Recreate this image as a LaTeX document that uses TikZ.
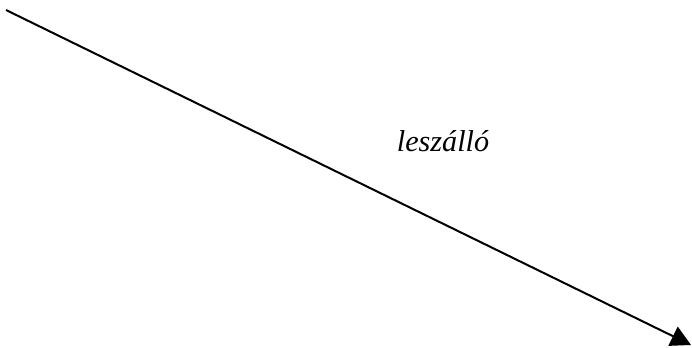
\documentclass[tikz,border=0pt]{standalone}
\usepackage{fontspec}
\setmainfont{Liberation Serif}
\usetikzlibrary{arrows.meta}

\begin{document}
\begin{tikzpicture}[
  x=0.5pt, y=-0.5pt,
  every node/.style={font=\fontsize{15.1}{18}\selectfont\itshape},
  flow/.style={-{Triangle[length=10pt, width=10.5pt]}, line width=1pt, draw=black},
]
  \useasboundingbox (0,0) rectangle (692,348);

  \coordinate (top)    at (6,10);
  \coordinate (bottom) at (691,345);
  \node (lbl) at (443,141) {leszálló};

  % descending line
  \draw[flow] (top) -- (bottom);
\end{tikzpicture}
\end{document}
